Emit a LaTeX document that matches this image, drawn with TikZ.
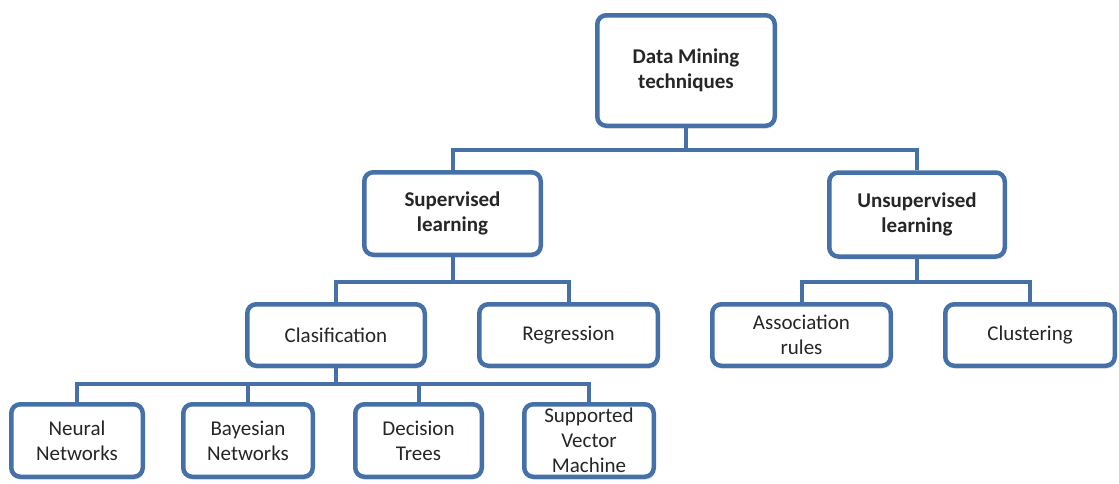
\documentclass[tikz,border=0pt]{standalone}
\usepackage{fontspec}
\setmainfont{Carlito}
\usetikzlibrary{shadows}
\definecolor{boxblue}{RGB}{70,112,168}
\definecolor{txtgray}{RGB}{38,38,38}
\tikzset{
  box/.style={draw=boxblue, line width=4.5pt, rounded corners=9pt, fill=white,
    align=center, text=txtgray, inner sep=0pt,
    font=\fontsize{21}{25}\selectfont,
    drop shadow={opacity=0.18, shadow xshift=1pt, shadow yshift=-3pt}},
  boldbox/.style={box, font=\fontsize{21}{25}\selectfont\bfseries},
  link/.style={draw=boxblue, line width=4pt}
}
\begin{document}
\begin{tikzpicture}[x=1pt,y=-1pt]
\useasboundingbox (0,0) rectangle (1119,483);
\node[boldbox, minimum width=177.5pt, minimum height=110.5pt] (top) at (686,70.5) {Data Mining\\techniques};
\node[boldbox, minimum width=176.5pt, minimum height=82.5pt] (sup) at (452.5,213.5) {Supervised\\learning};
\node[boldbox, minimum width=175.5pt, minimum height=84pt] (unsup) at (917,214.5) {Unsupervised\\learning};
\node[box, minimum width=177.5pt, minimum height=61.5pt] (clas) at (336,335) {Clasification};
\node[box, minimum width=178.5pt, minimum height=61.5pt] (reg) at (568.5,335) {Regression};
\node[box, minimum width=178.5pt, minimum height=61.5pt] (assoc) at (801.5,335) {Association\\rules};
\node[box, minimum width=169.5pt, minimum height=61.5pt] (clust) at (1030,335) {Clustering};
\node[box, minimum width=131.5pt, minimum height=72.5pt] (nn) at (77,440.5) {Neural\\Networks};
\node[box, minimum width=129.5pt, minimum height=72.5pt] (bn) at (248,440.5) {Bayesian\\Networks};
\node[box, minimum width=126.5pt, minimum height=72.5pt] (dt) at (418.5,440.5) {Decision\\Trees};
\node[box, minimum width=129.5pt, minimum height=72.5pt] (svm) at (589,440.5) {Supported\\Vector\\Machine};
\coordinate (j1) at (686,150);
\coordinate (j2) at (452.5,282);
\coordinate (j3) at (917,282);
\coordinate (j4) at (336,384);
\draw[link] (top.south) -- (j1);
\draw[link] (sup.north) |- (j1) -| (unsup.north);
\draw[link] (sup.south) -- (j2);
\draw[link] (clas.north) |- (j2) -| (reg.north);
\draw[link] (unsup.south) -- (j3);
\draw[link] (assoc.north) |- (j3) -| (clust.north);
\draw[link] (clas.south) -- (j4);
\draw[link] (nn.north) |- (j4) -| (svm.north);
\draw[link] (bn.north) -- (bn.north |- j4);
\draw[link] (dt.north) -- (dt.north |- j4);
\end{tikzpicture}
\end{document}
